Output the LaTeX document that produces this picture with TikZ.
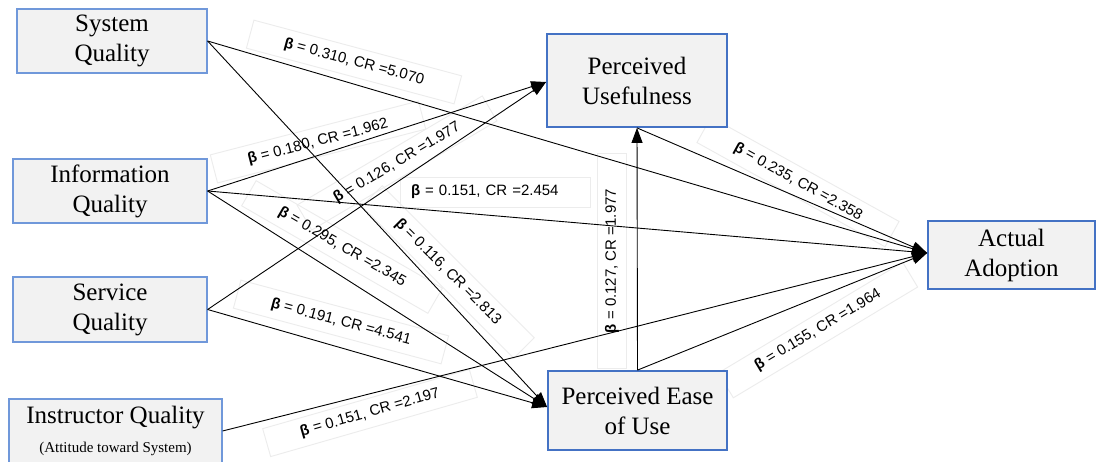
\documentclass[tikz,border=0pt]{standalone}
\usepackage{fontspec}
\setmainfont{Liberation Serif}
\setsansfont{Liberation Sans}
\usetikzlibrary{arrows.meta}
\definecolor{boxfill}{RGB}{242,242,242}
\definecolor{lblue}{RGB}{112,152,218}
\definecolor{dblue}{RGB}{68,114,196}
\definecolor{lblbox}{RGB}{236,236,236}
\begin{document}
\begin{tikzpicture}[x=1pt,y=-1pt,
  srcbox/.style={draw=lblue,line width=1.2pt,fill=boxfill,align=center,inner sep=0pt,font=\fontsize{25}{30}\selectfont},
  tgtbox/.style={draw=dblue,line width=1.8pt,fill=boxfill,align=center,inner sep=0pt,font=\fontsize{25}{30}\selectfont},
  conn/.style={line width=0.9pt,-{Triangle[length=15pt,width=11pt]}},
  lbl/.style={draw=lblbox,line width=0.9pt,minimum width=215pt,minimum height=29pt,inner sep=0pt,font=\sffamily\fontsize{15}{18}\selectfont},
]
\useasboundingbox (0,0) rectangle (1099,462);
\fill[white] (0,0) rectangle (1099,462);

% label boxes (drawn first, behind the connectors)
\node[lbl,rotate=-15] (l1) at (354,62) {\textbf{β} = 0.310, CR =5.070};
\node[lbl,rotate=14.5] (l2) at (318,142) {\textbf{β} = 0.180, CR =1.962};
\node[lbl,rotate=30.5] (l3) at (397,163) {\textbf{β} = 0.126, CR =1.977};
\node[lbl,minimum width=190pt,minimum height=30pt,text width=168pt,align=left] (l4) at (495,192) {\textbf{β} = 0.151, CR =2.454};
\node[lbl,rotate=-30] (l5) at (342,247) {\textbf{β} = 0.295, CR =2.345};
\node[lbl,rotate=-45] (l6) at (448,272) {\textbf{β} = 0.116, CR =2.813};
\node[lbl,rotate=-15] (l7) at (341,322) {\textbf{β} = 0.191, CR =4.541};
\node[lbl,rotate=16] (l8) at (370,413) {\textbf{β} = 0.151, CR =2.197};
\node[lbl,rotate=90] (l9) at (612,261) {\textbf{β} = 0.127, CR =1.977};
\node[lbl,rotate=-29] (l10) at (798,182) {\textbf{β} = 0.235, CR =2.358};
\node[lbl,rotate=31] (l11) at (818,330) {\textbf{β} = 0.155, CR =1.964};

% construct boxes
\node[srcbox,minimum width=190pt,minimum height=64pt] (sq) at (112,41) {System\\Quality};
\node[srcbox,minimum width=194pt,minimum height=64pt] (iq) at (110,191) {Information\\Quality};
\node[srcbox,minimum width=194pt,minimum height=65pt] (svq) at (110,309.5) {Service\\Quality};
\node[srcbox,minimum width=213pt,minimum height=64pt,font=\fontsize{25}{29}\selectfont] (inq) at (115.5,431) {Instructor Quality\\{\fontsize{15}{18}\selectfont (Attitude toward System)}};
\node[tgtbox,minimum width=180pt,minimum height=93pt] (pu) at (637,80.5) {Perceived\\Usefulness};
\node[tgtbox,minimum width=179pt,minimum height=79pt] (peu) at (637.5,410.5) {Perceived Ease\\of Use};
\node[tgtbox,minimum width=167pt,minimum height=68pt] (aa) at (1011.5,255) {Actual\\Adoption};

\coordinate (puin) at ([yshift=-1.5pt]pu.west);
\coordinate (peuin) at ([yshift=3.5pt]peu.west);
\coordinate (aain) at ([yshift=2pt]aa.west);

% connectors
\draw[conn] (sq.east) -- (aain);
\draw[conn] (sq.east) -- (peuin);
\draw[conn] (iq.east) -- (puin);
\draw[conn] (iq.east) -- (aain);
\draw[conn] (iq.east) -- (peuin);
\draw[conn] (svq.east) -- (puin);
\draw[conn] (svq.east) -- (peuin);
\draw[conn] (inq.east) -- (aain);
\draw[conn] (peu.north) -- (pu.south);
\draw[conn] (pu.south) -- (aain);
\draw[conn] (peu.north) -- (aain);
\end{tikzpicture}
\end{document}
